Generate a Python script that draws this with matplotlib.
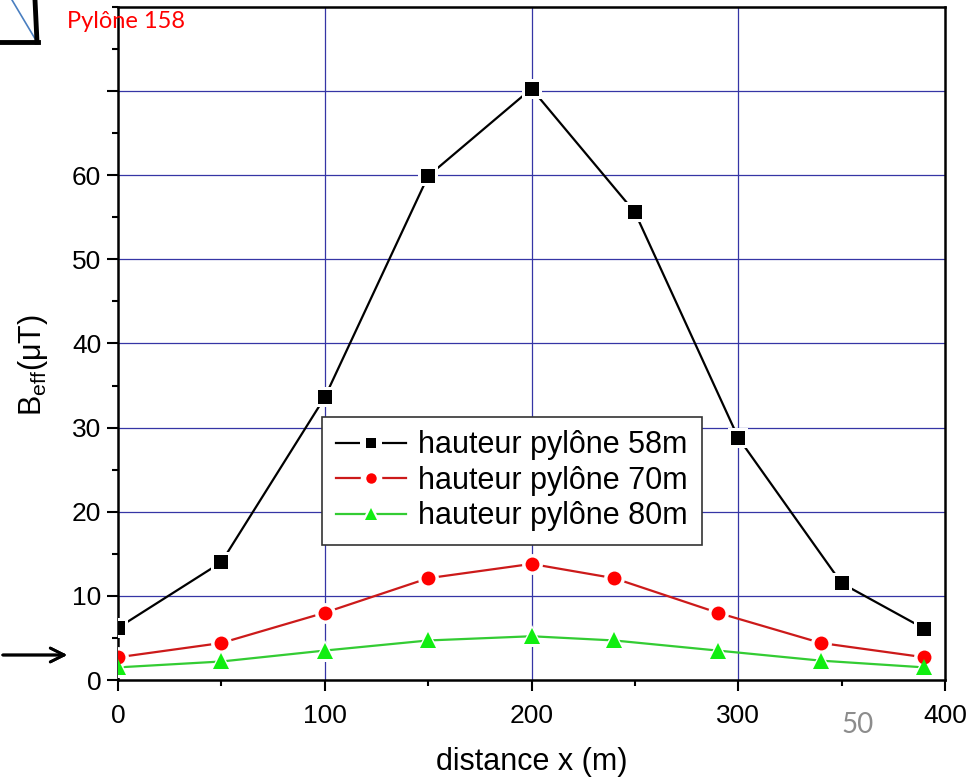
import matplotlib
matplotlib.use("Agg")
import matplotlib.pyplot as plt
from matplotlib.lines import Line2D
from matplotlib.legend_handler import HandlerTuple
from matplotlib.ticker import MultipleLocator, FixedLocator

plt.rcParams['font.family'] = ['Liberation Sans', 'DejaVu Sans']

# Distances along the line (m) and field values (µT)
x_58 = [0, 50, 100, 150, 200, 250, 300, 350, 390]
b_58 = [6.2, 14.0, 33.6, 59.9, 70.3, 55.6, 28.8, 11.5, 6.1]

x_70 = [0, 50, 100, 150, 200, 240, 290, 340, 390]
b_70 = [2.7, 4.4, 8.0, 12.1, 13.8, 12.1, 8.0, 4.4, 2.7]

x_80 = [0, 50, 100, 150, 200, 240, 290, 340, 390]
b_80 = [1.5, 2.2, 3.5, 4.7, 5.2, 4.7, 3.5, 2.3, 1.5]

labels = ["hauteur pylône 58m", "hauteur pylône 70m", "hauteur pylône 80m"]

W, H = 970, 778
fig = plt.figure(figsize=(W / 100, H / 100), dpi=100)
ax = fig.add_axes([118 / W, (H - 680) / H, (945 - 118) / W, (680 - 7) / H])

grid_c = '#3535a5'
for v in [10, 20, 30, 40, 50, 60, 70]:
    ax.axhline(v, color=grid_c, lw=0.9, zorder=1)
for v in [100, 200, 300]:
    ax.axvline(v, color=grid_c, lw=0.9, zorder=1)

series = [
    (x_58, b_58, 's', 'black', 'black', 9.5),
    (x_70, b_70, 'o', '#cc1a1a', '#ff0000', 10),
    (x_80, b_80, '^', '#33cc33', '#11ee11', 11),
]
handles = []
for (xs, ys, m, lc, mc, ms), lab in zip(series, labels):
    # line with white halos around the markers to open small gaps
    ax.plot(xs, ys, '-', color=lc, lw=1.6, zorder=2)
    ax.plot(xs, ys, ls='none', marker=m, ms=ms + 5, color='white',
            markeredgewidth=0, zorder=3)
    ax.plot(xs, ys, ls='none', marker=m, ms=ms, color=mc,
            markeredgewidth=0, zorder=4)
    h_line = Line2D([], [], color=lc, lw=1.6)
    h_halo = Line2D([], [], ls='none', marker=m, ms=ms * 0.75 + 8,
                    color='white', markeredgewidth=0)
    h_mark = Line2D([], [], ls='none', marker=m, ms=ms * 0.75,
                    color=mc, markeredgewidth=0)
    handles.append((h_line, h_halo, h_mark))

ax.set_xlim(0, 400)
ax.set_ylim(0, 80)
ax.xaxis.set_major_locator(MultipleLocator(100))
ax.xaxis.set_minor_locator(MultipleLocator(50))
ax.yaxis.set_major_locator(FixedLocator([0, 10, 20, 30, 40, 50, 60, 70]))
ax.yaxis.set_minor_locator(MultipleLocator(5))
ax.set_yticklabels(['0', '10', '20', '30', '40', '50', '60', ''])

ax.tick_params(which='major', direction='out', length=8, width=1.5,
               labelsize=19, pad=4, colors='black')
ax.tick_params(axis='x', which='major', pad=9)
ax.tick_params(which='minor', direction='out', length=4, width=1.5)
for s in ax.spines.values():
    s.set_linewidth(1.8)

ax.set_xlabel('distance x (m)', fontsize=22, labelpad=14)
fig.text(33 / W, 1 - 365 / H, r'B$_{\mathregular{eff}}$(μT)',
         rotation=90, fontsize=22, ha='center', va='center')

leg = ax.legend(handles, labels, loc='lower left',
                handler_map={tuple: HandlerTuple(ndivide=1, pad=0)},
                bbox_to_anchor=((322 - 118) / 827, (680 - 545) / 673),
                fontsize=22, frameon=True, fancybox=False, framealpha=1,
                edgecolor='#333333', handlelength=2.3, handletextpad=0.4,
                borderpad=0.45, labelspacing=0.18, borderaxespad=0)
leg.get_frame().set_linewidth(1.2)
leg.set_zorder(5)

# slide decorations around the chart
fig.add_artist(Line2D([12 / W, 37 / W], [1, 1 - 42 / H], color='#4a7fc0', lw=1.2))
fig.add_artist(Line2D([35 / W, 37 / W], [1, 1 - 42 / H], color='black', lw=3.5))
fig.add_artist(Line2D([0, 38 / W], [1 - 42 / H, 1 - 42 / H], color='black', lw=3.5))
fig.text(67 / W, 1 - 21 / H, 'Pylône 158', color='#ff0000', fontsize=17,
         family=['Lato', 'DejaVu Sans'], ha='left', va='center')
fig.text(858 / W, 1 - 725 / H, '50', color='#8c8c8c', fontsize=20,
         family=['Lato', 'DejaVu Sans'], ha='center', va='center')
fig.add_artist(plt.annotate('', xy=(70 / W, 1 - 655 / H), xytext=(0, 1 - 655 / H),
                            xycoords='figure fraction', textcoords='figure fraction',
                            arrowprops=dict(arrowstyle='->', color='black', lw=2,
                                            mutation_scale=25)))

fig.savefig('out.png', dpi=100)
